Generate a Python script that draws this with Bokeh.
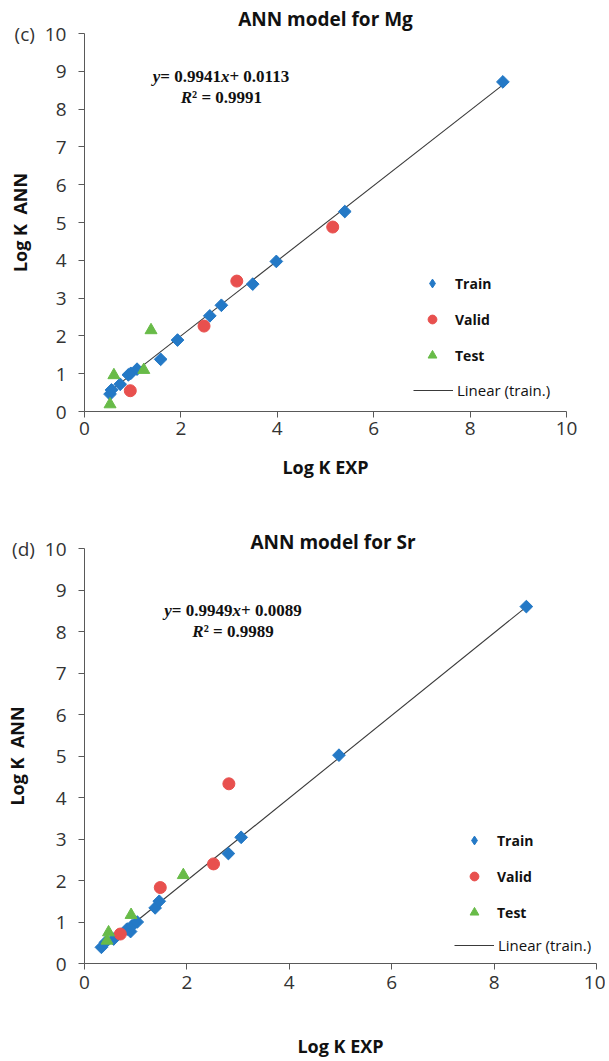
import math
from bokeh.plotting import figure
from bokeh.layouts import column
from bokeh.models import Label, Legend, LegendItem, FixedTicker, Range1d
from bokeh.embed import file_html
from bokeh.resources import INLINE

# ---------------- data ----------------
mg_train_x = [0.53, 0.56, 0.74, 0.91, 0.96, 1.09, 1.58, 1.93, 2.60, 2.84, 3.49, 3.98, 5.40, 8.68]
mg_train_y = [0.46, 0.57, 0.72, 0.97, 1.01, 1.12, 1.38, 1.89, 2.53, 2.81, 3.37, 3.97, 5.29, 8.72]
mg_valid_x = [0.95, 2.48, 3.16, 5.15]
mg_valid_y = [0.55, 2.26, 3.45, 4.88]
mg_test_x = [0.53, 0.61, 1.23, 1.38]
mg_test_y = [0.19, 0.96, 1.10, 2.15]
mg_slope, mg_intercept, mg_r2 = 0.9941, 0.0113, 0.9991

sr_train_x = [0.33, 0.41, 0.57, 0.83, 0.90, 0.93, 1.03, 1.38, 1.46, 2.81, 3.06, 4.97, 8.63]
sr_train_y = [0.39, 0.51, 0.59, 0.83, 0.77, 0.91, 1.00, 1.34, 1.50, 2.65, 3.04, 5.02, 8.60]
sr_valid_x = [0.70, 1.48, 2.52, 2.82]
sr_valid_y = [0.71, 1.83, 2.40, 4.33]
sr_test_x = [0.44, 0.47, 0.91, 1.93]
sr_test_y = [0.55, 0.75, 1.17, 2.13]
sr_slope, sr_intercept, sr_r2 = 0.9949, 0.0089, 0.9989

x_ticks = [0, 2, 4, 6, 8, 10]
y_ticks = [0, 1, 2, 3, 4, 5, 6, 7, 8, 9, 10]
series_labels = ["Train", "Valid", "Test", "Linear (train.)"]

BLUE = "#2479c6"
RED = "#e8504e"
GREEN = "#68bb48"
AX = "#595959"
FONT = "Open Sans"
SERIF = "Liberation Serif"
NB = "\u00a0"
EQ_PX = 17
# advance widths (per 1000 em) of Times/Liberation Serif bold & bold-italic
W_BOLD = {NB: 250, " ": 250, "=": 570, "+": 570, ".": 250, "\u00b2": 300}
W_BI = {"y": 444, "x": 500, "R": 667}


def text_width(s, italic=False):
    tot = 0
    for ch in s:
        if italic:
            tot += W_BI.get(ch, 500)
        else:
            tot += W_BOLD.get(ch, 500)
    return tot * EQ_PX / 1000.0


def rich_label(p, x, y, pieces):
    widths = [text_width(t, it) for t, it in pieces]
    off = -sum(widths) / 2.0
    for (t, it), w in zip(pieces, widths):
        p.add_layout(Label(x=x, y=y, x_offset=off, text=t, text_align="left",
                           text_baseline="middle", text_font=SERIF,
                           text_font_size="%dpx" % EQ_PX,
                           text_font_style="bold italic" if it else "bold",
                           text_color="#111111"))
        off += w


def panel(tag, title, tx, ty, vx, vy, sx, sy, slope, intercept, r2,
          fw, fh, bl, br, bt, bb, title_align, title_offset, title_standoff,
          eq_pos, leg_loc, line_loc, xlab_standoff, xlab_axis_standoff):
    p = figure(frame_width=fw, frame_height=fh, min_border_left=bl,
               min_border_right=br, min_border_top=bt, min_border_bottom=bb,
               x_range=Range1d(0, 10), y_range=Range1d(0, 10), title=title,
               output_backend="svg", toolbar_location=None)
    p.grid.visible = False
    p.outline_line_color = None
    p.background_fill_color = "white"
    p.border_fill_color = "white"

    p.title.align = title_align
    p.title.offset = title_offset
    p.title.standoff = title_standoff
    p.title.text_font = FONT
    p.title.text_font_size = "19px"
    p.title.text_font_style = "bold"
    p.title.text_color = "#111111"

    for ax in (p.xaxis[0], p.yaxis[0]):
        ax.axis_line_color = AX
        ax.major_tick_line_color = AX
        ax.minor_tick_line_color = None
        ax.major_tick_in = 0
        ax.major_tick_out = 6
        ax.major_label_text_font = FONT
        ax.major_label_text_font_size = "19px"
        ax.major_label_text_color = "#333333"
        ax.axis_label_text_font = FONT
        ax.axis_label_text_font_size = "18px"
        ax.axis_label_text_font_style = "bold"
        ax.axis_label_text_color = "#111111"
    p.xaxis.ticker = FixedTicker(ticks=x_ticks)
    p.yaxis.ticker = FixedTicker(ticks=y_ticks)
    p.yaxis.major_label_overrides = {10: tag + NB + NB + "10"}
    p.xaxis.axis_label = "Log K EXP"
    p.yaxis.axis_label = "Log K" + NB + NB + "ANN"
    p.xaxis.major_label_standoff = xlab_standoff
    p.xaxis.axis_label_standoff = xlab_axis_standoff
    p.yaxis.major_label_standoff = 12
    p.yaxis.axis_label_standoff = -20

    # trend line over the training data range
    lx = [min(tx), max(tx)]
    ly = [slope * v + intercept for v in lx]
    r_line = p.line(lx, ly, line_color="#3a3a3a", line_width=1.1)

    # diamond keyed copy of the training points (hidden beneath the
    # rotated squares, used for the legend swatch)
    r_train_key = p.scatter(tx, ty, marker="diamond", size=11,
                            fill_color=BLUE, line_color=BLUE)
    p.scatter(tx, ty, marker="square", angle=math.pi / 4, size=9,
              fill_color=BLUE, line_color=BLUE)
    r_valid = p.scatter(vx, vy, marker="circle", size=12,
                        fill_color=RED, line_color=RED)
    r_test = p.scatter(sx, sy, marker="triangle", size=12,
                       fill_color=GREEN, line_color=GREEN)

    leg = Legend(items=[LegendItem(label=series_labels[0], renderers=[r_train_key]),
                        LegendItem(label=series_labels[1], renderers=[r_valid]),
                        LegendItem(label=series_labels[2], renderers=[r_test])],
                 location=leg_loc, orientation="vertical",
                 border_line_color=None, background_fill_alpha=0,
                 padding=0, margin=0, spacing=14,
                 glyph_width=22, glyph_height=22, label_height=20,
                 label_standoff=12, label_text_font=FONT,
                 label_text_font_style="bold", label_text_font_size="14px",
                 label_text_color="#111111")
    p.add_layout(leg)
    leg2 = Legend(items=[LegendItem(label=series_labels[3], renderers=[r_line])],
                  location=line_loc, orientation="vertical",
                  border_line_color=None, background_fill_alpha=0,
                  padding=0, margin=0, glyph_width=40, glyph_height=20,
                  label_height=20, label_standoff=4, label_text_font=FONT,
                  label_text_font_size="15px", label_text_color="#111111")
    p.add_layout(leg2)

    rich_label(p, eq_pos[0], eq_pos[1],
               [("y", True), ("=" + NB + "%.4f" % slope, False), ("x", True),
                ("+" + NB + "%.4f" % intercept, False)])
    rich_label(p, eq_pos[0], eq_pos[2],
               [("R", True), ("\u00b2" + NB + "=" + NB + "%.4f" % r2, False)])
    return p


p1 = panel("(c)", "ANN model for Mg", mg_train_x, mg_train_y, mg_valid_x,
           mg_valid_y, mg_test_x, mg_test_y, mg_slope, mg_intercept, mg_r2,
           fw=482, fh=378, bl=84, br=20, bt=33, bb=102,
           title_align="center", title_offset=0, title_standoff=4,
           eq_pos=(2.84, 8.86, 8.32),
           leg_loc=(337, 45), line_loc=(329, 11),
           xlab_standoff=4, xlab_axis_standoff=17)

p2 = panel("(d)", "ANN model for Sr", sr_train_x, sr_train_y, sr_valid_x,
           sr_valid_y, sr_test_x, sr_test_y, sr_slope, sr_intercept, sr_r2,
           fw=512, fh=415, bl=83, br=10, bt=35, bb=90,
           title_align="left", title_offset=166, title_standoff=-12,
           eq_pos=(2.9, 8.5, 8.0),
           leg_loc=(379, 40), line_loc=(370, 8),
           xlab_standoff=6, xlab_axis_standoff=42)

layout = column(p1, p2, spacing=0)
open("out.html", "w").write(file_html(layout, INLINE))
